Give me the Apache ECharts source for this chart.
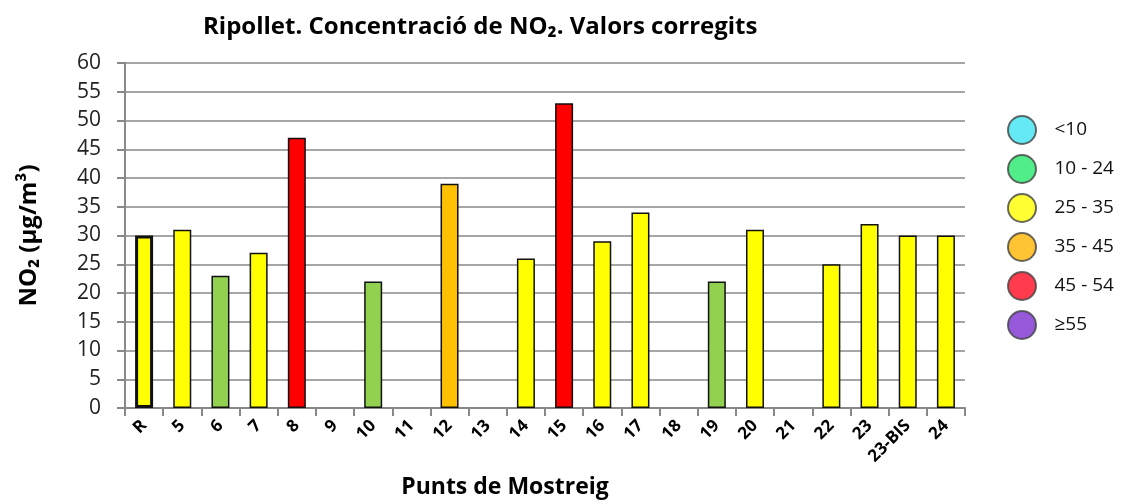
<!DOCTYPE html>
<html>
<head>
<meta charset="utf-8">
<script src="https://cdn.jsdelivr.net/npm/echarts@6/dist/echarts.min.js"></script>
<style>
  html, body { margin: 0; padding: 0; background: #fff; }
  #chart { width: 1134px; height: 504px; }
</style>
</head>
<body>
<div id="chart"></div>
<script>
// punts de mostreig
var categories = ['R', '5', '6', '7', '8', '9', '10', '11', '12', '13', '14', '15', '16', '17', '18', '19', '20', '21', '22', '23', '23-BIS', '24'];
// NO2 (µg/m3), null = sense dada
var values = [30, 31, 23, 27, 47, null, 22, null, 39, null, 26, 53, 29, 34, null, 22, 31, null, 25, 32, 30, 30];
var yTicks = [0, 5, 10, 15, 20, 25, 30, 35, 40, 45, 50, 55, 60];
var legendNames = ['<10', '10 - 24', '25 - 35', '35 - 45', '45 - 54', '\u226555'];
var legendColors = ['#3FE3F2', '#25E86C', '#FFFF00', '#FFB400', '#FF0A22', '#7B2FCF'];

function barColor(v) {
  if (v < 10) return '#33CCFF';
  if (v < 25) return '#92D050';
  if (v <= 35) return '#FFFF00';
  if (v < 45) return '#FFC000';
  if (v < 55) return '#FF0000';
  return '#7030A0';
}

var chart = echarts.init(document.getElementById('chart'));

var barData = values.map(function (v, i) {
  if (v == null) return null;
  return {
    value: v,
    itemStyle: {
      color: barColor(v),
      borderColor: '#111',
      borderWidth: i === 0 ? 3 : 1.5
    }
  };
});

var legendSeries = legendNames.map(function (n, i) {
  return {
    name: n,
    type: 'scatter',
    data: [],
    itemStyle: { color: legendColors[i], borderColor: '#444', borderWidth: 1.5 }
  };
});

var option = {
  animation: false,
  textStyle: { fontFamily: '"Open Sans", sans-serif' },
  title: {
    text: 'Ripollet. Concentració de NO\u2082. Valors corregits',
    left: 198,
    top: 10,
    textStyle: { fontSize: 24, fontWeight: 'bold', color: '#000', fontFamily: '"Open Sans", sans-serif' }
  },
  legend: {
    orient: 'vertical',
    left: 1002,
    top: 110,
    icon: 'circle',
    itemWidth: 31,
    itemHeight: 28,
    itemGap: 9,
    data: legendNames,
    textStyle: { fontSize: 19, color: '#111', padding: [0, 0, 0, 12] },
    selectedMode: false
  },
  grid: { left: 125, right: 169, top: 63, bottom: 92 },
  xAxis: {
    type: 'category',
    data: categories,
    name: 'Punts de Mostreig',
    nameLocation: 'middle',
    nameGap: 68,
    nameTextStyle: { fontSize: 23, fontWeight: 'bold', color: '#000', padding: [0, 80, 0, 0] },
    axisLine: { lineStyle: { color: '#888', width: 2 } },
    axisTick: { show: true, alignWithLabel: false, length: 8, lineStyle: { color: '#888', width: 2 } },
    axisLabel: { rotate: 45, interval: 0, fontSize: 17, fontWeight: 'bold', color: '#000', margin: 15 }
  },
  yAxis: {
    type: 'value',
    min: yTicks[0],
    max: yTicks[yTicks.length - 1],
    interval: 5,
    name: 'NO\u2082 (µg/m³)',
    nameLocation: 'middle',
    nameRotate: 90,
    nameGap: 84,
    nameTextStyle: { fontSize: 24, fontWeight: 'bold', color: '#000' },
    axisLine: { show: true, lineStyle: { color: '#888', width: 2 } },
    axisTick: { show: true, length: 8, lineStyle: { color: '#888', width: 2 } },
    splitLine: { lineStyle: { color: '#888', width: 1.5 } },
    axisLabel: { fontSize: 21, color: '#222', margin: 24 }
  },
  series: [{
    type: 'bar',
    barWidth: 18,
    data: barData
  }].concat(legendSeries)
};

chart.setOption(option);
</script>
</body>
</html>
